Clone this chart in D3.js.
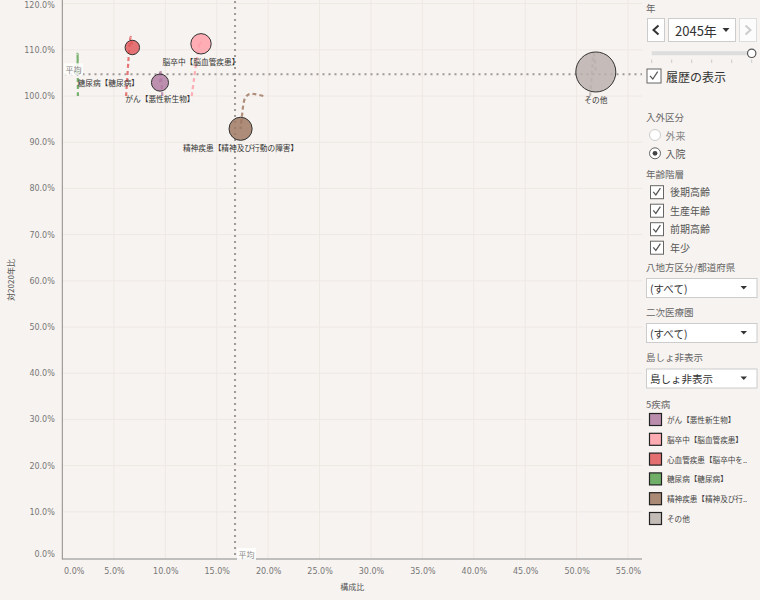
<!DOCTYPE html>
<html><head><meta charset="utf-8">
<script src="https://cdn.jsdelivr.net/npm/d3@7"></script>
<style>
html,body{margin:0;padding:0;background:#f7f3f0;}
svg{display:block;}
text{font-family:"Noto Sans CJK JP","Noto Sans",sans-serif;}
.num{font-family:"DejaVu Sans",sans-serif;}
</style></head><body>
<svg id="c" width="760" height="600"></svg>
<script>
// ---- data ----
const diseases = ["がん【悪性新生物】","脳卒中【脳血管疾患】","心血管疾患【脳卒中を除く】","糖尿病【糖尿病】","精神疾患【精神及び行動の障害】","その他"];
const legendLabels = ["がん【悪性新生物】","脳卒中【脳血管疾患】","心血管疾患【脳卒中を..","糖尿病【糖尿病】","精神疾患【精神及び行..","その他"];
const colors = ["#b07aa1","#ff9da7","#e15759","#59a14f","#9c755f","#bab0ac"];
const years = [2020,2025,2030,2035,2040,2045];
const shareCancer   = [0.0971,0.0963,0.0956,0.0951,0.0948,0.0948];
const ratioCancer   = [1.000,1.030,1.049,1.056,1.050,1.029];
const shareStroke   = [0.1257,0.1278,0.1298,0.1318,0.1338,0.1347];
const ratioStroke   = [1.000,1.035,1.068,1.096,1.118,1.113];
const shareHeart    = [0.0618,0.0630,0.0642,0.0652,0.0663,0.0679];
const ratioHeart    = [1.000,1.040,1.080,1.110,1.128,1.105];
const shareDiabetes = [0.0150,0.0149,0.0148,0.0147,0.0147,0.0146];
const ratioDiabetes = [1.000,1.040,1.073,1.091,1.082,1.053];
const shareMental   = [0.1953,0.1873,0.1814,0.1775,0.1743,0.1732];
const ratioMental   = [1.000,1.004,1.004,0.995,0.952,0.929];
const shareOther    = [0.5131,0.5145,0.5155,0.5163,0.5170,0.5187];
const ratioOther    = [1.000,1.035,1.068,1.092,1.090,1.052];
const avgShare = 0.1678;
const avgRatio = 1.047;
const xTicks = [0,0.05,0.10,0.15,0.20,0.25,0.30,0.35,0.40,0.45,0.50,0.55];
const yTicks = [0,0.1,0.2,0.3,0.4,0.5,0.6,0.7,0.8,0.9,1.0,1.1,1.2];
const xTitle = "構成比", yTitle = "対2020年比", avgLabel = "平均";
const ageGroups = ["後期高齢","生産年齢","前期高齢","年少"];
const inOut = ["外来","入院"];
const sliderYears = years;

const shares = [shareCancer,shareStroke,shareHeart,shareDiabetes,shareMental,shareOther];
const ratios = [ratioCancer,ratioStroke,ratioHeart,ratioDiabetes,ratioMental,ratioOther];
const series = diseases.map((d,i)=>({name:d, color:colors[i],
  pts: years.map((yr,j)=>({year:yr, x:shares[i][j], y:ratios[i][j]}))}));
// label placement (layout only): null = hidden
const labelAnchor = ["middle","middle",null,"start","middle","middle"];

// ---- layout ----
const svg = d3.select("#c");
const L = 62.5, R = 642, T = 0, B = 559;
const x = d3.scaleLinear().domain([0,0.55]).range([62.5,628]);
const y = d3.scaleLinear().domain([0,1.2]).range([558,3.6]);
const r = d3.scaleSqrt().domain([0,d3.max(shareOther)]).range([0,20]);
const pct = d3.format(".1%");

svg.append("rect").attr("width",760).attr("height",600).attr("fill","#f7f3f0");

// gridlines
const g = svg.append("g");
g.selectAll(".vg").data(xTicks.slice(1)).join("line")
  .attr("x1",d=>x(d)).attr("x2",d=>x(d)).attr("y1",T).attr("y2",B)
  .attr("stroke","#eee8e3").attr("stroke-width",1);
g.selectAll(".hg").data(yTicks.slice(1)).join("line")
  .attr("x1",L).attr("x2",R).attr("y1",d=>y(d)).attr("y2",d=>y(d))
  .attr("stroke","#eee8e3").attr("stroke-width",1);

// axes
const ax = svg.append("g").attr("transform",`translate(0,${B})`)
  .call(d3.axisBottom(x).tickValues(xTicks).tickFormat(pct).tickSize(0).tickPadding(9));
ax.select(".domain").remove();
ax.selectAll("text").attr("class","num").attr("font-size",8).attr("fill","#777")
  .attr("text-anchor",(d,i)=>i===0?"start":"middle").attr("dx",(d,i)=>i===0?1:0);
const ay = svg.append("g").attr("transform",`translate(${L-0.2},0)`)
  .call(d3.axisLeft(y).tickValues(yTicks).tickFormat(pct).tickSize(0).tickPadding(7.5));
ay.select(".domain").remove();
ay.selectAll("text").attr("class","num").attr("font-size",8).attr("fill","#777")
  .attr("dy",d=>d===0?"-0.15em":(d>=1.2?"0.5em":"0.32em"));
svg.append("line").attr("x1",62.3).attr("x2",62.3).attr("y1",0).attr("y2",B+0.5).attr("stroke","#8a8a8a");
svg.append("line").attr("x1",62.3).attr("x2",R).attr("y1",B).attr("y2",B).attr("stroke","#8a8a8a");
svg.append("text").attr("x",(L+R)/2).attr("y",590).attr("text-anchor","middle")
  .attr("font-size",8).attr("fill","#555").text(xTitle);
svg.append("text").attr("transform","translate(14,280) rotate(-90)").attr("text-anchor","middle")
  .attr("font-size",8).attr("fill","#555").text(yTitle);

// average reference lines
svg.append("line").attr("x1",x(avgShare)).attr("x2",x(avgShare)).attr("y1",1).attr("y2",B)
  .attr("stroke","#a09a96").attr("stroke-width",2).attr("stroke-dasharray","2,4");
svg.append("line").attr("x1",L+2).attr("x2",R).attr("y1",y(avgRatio)).attr("y2",y(avgRatio))
  .attr("stroke","#a09a96").attr("stroke-width",2).attr("stroke-dasharray","2,4");

// trails
const line = d3.line().x(d=>x(d.x)).y(d=>y(d.y)).curve(d3.curveCatmullRom.alpha(0.5));
svg.append("g").selectAll("path").data(series).join("path")
  .attr("d",d=>line(d.pts)).attr("fill","none").attr("stroke",d=>d.color)
  .attr("stroke-width",2.2).attr("stroke-dasharray","4,3").attr("stroke-opacity",0.8);

// bubbles (2045)
const last = series.map(s=>({name:s.name,color:s.color,...s.pts[s.pts.length-1]}));
svg.append("g").selectAll("circle").data(last).join("circle")
  .attr("cx",d=>x(d.x)).attr("cy",d=>y(d.y)).attr("r",d=>r(d.x))
  .attr("fill",d=>d.color).attr("fill-opacity",0.82).attr("stroke","#333").attr("stroke-width",1);

// avg labels
function avgText(tx,ty){
  const t = svg.append("text").attr("x",tx).attr("y",ty).attr("font-size",8).attr("fill","#888")
    .attr("dominant-baseline","central").text(avgLabel);
  const bb = t.node().getBBox();
  svg.insert("rect",()=>t.node()).attr("x",bb.x-1.5).attr("y",bb.y-0.5).attr("width",bb.width+3).attr("height",bb.height+1)
    .attr("fill","#fff").attr("fill-opacity",0.85);
}
avgText(x(0)+3, y(avgRatio)-5);
avgText(x(avgShare)+3.5, 554);

// mark labels
svg.append("g").selectAll("text").data(last.filter((d,i)=>labelAnchor[i]))
  .join("text")
  .attr("x",d=>x(d.x)).attr("y",d=>y(d.y)+r(d.x)+7.5)
  .attr("text-anchor",d=>labelAnchor[diseases.indexOf(d.name)])
  .attr("dominant-baseline","central").attr("font-size",7.7).attr("fill","#333")
  .text(d=>d.name);

// ---- right panel ----
const P = svg.append("g");
const titleCol = "#666";
function title(t,ty,col){P.append("text").attr("x",646).attr("y",ty).attr("font-size",9.5)
  .attr("dominant-baseline","central").attr("fill",col||titleCol).text(t);}
title("年",8);
P.append("rect").attr("x",647.5).attr("y",18.5).attr("width",17).attr("height",23).attr("fill","#fff").attr("stroke","#ccc");
P.append("path").attr("d","M658.5,25.5 L653.5,30 L658.5,34.5").attr("fill","none").attr("stroke","#333").attr("stroke-width",2);
P.append("rect").attr("x",668.5).attr("y",18.5).attr("width",67).attr("height",23).attr("fill","#fff").attr("stroke","#ccc");
P.append("text").attr("x",675).attr("y",30).attr("font-size",13).attr("fill","#333").attr("dominant-baseline","central").text(sliderYears[sliderYears.length-1]+"年");
P.append("path").attr("d","M722.5,28 L729.5,28 L726,32 Z").attr("fill","#333");
P.append("rect").attr("x",739.5).attr("y",18.5).attr("width",17).attr("height",23).attr("fill","#fcfcfc").attr("stroke","#ddd");
P.append("path").attr("d","M745.5,25.5 L750.5,30 L745.5,34.5").attr("fill","none").attr("stroke","#ccc").attr("stroke-width",2);
// slider
const sx = d3.scaleLinear().domain([2020,2045]).range([651.7,751.7]);
P.append("line").attr("x1",651.7).attr("x2",751.7).attr("y1",53.3).attr("y2",53.3).attr("stroke","#ddd").attr("stroke-width",4);
P.selectAll(".tk").data(sliderYears).join("line").attr("x1",d=>sx(d)).attr("x2",d=>sx(d))
  .attr("y1",59.5).attr("y2",63).attr("stroke","#ccc");
P.append("circle").attr("cx",sx(2045)).attr("cy",53.3).attr("r",4.2).attr("fill","#fff").attr("stroke","#555").attr("stroke-width",1.2);
function checkbox(cx,cy,s){
  P.append("rect").attr("x",cx+0.5).attr("y",cy+0.5).attr("width",s).attr("height",s).attr("fill","#fff").attr("stroke","#666");
  P.append("path").attr("d",`M${cx+s*0.25},${cy+s*0.52} L${cx+s*0.45},${cy+s*0.75} L${cx+s*0.8},${cy+s*0.22}`)
    .attr("fill","none").attr("stroke","#555").attr("stroke-width",1.2);
}
checkbox(646.5,68.5,14);
P.append("text").attr("x",666).attr("y",76).attr("font-size",12).attr("fill","#333").attr("dominant-baseline","central").text("履歴の表示");
title("入外区分",117);
inOut.forEach((t,i)=>{
  const cy = 135+i*18.3;
  P.append("circle").attr("cx",655).attr("cy",cy).attr("r",5.5).attr("fill","#fff").attr("stroke",i===1?"#666":"#ccc");
  if(i===1) P.append("circle").attr("cx",655).attr("cy",cy).attr("r",2.4).attr("fill","#444");
  P.append("text").attr("x",665.5).attr("y",cy).attr("font-size",10).attr("fill",i===1?"#555":"#888").attr("dominant-baseline","central").text(t);
});
title("年齢階層",173.5);
ageGroups.forEach((t,i)=>{
  const cy = 191.7+i*18.5;
  checkbox(650,cy-6.5,13);
  P.append("text").attr("x",670).attr("y",cy).attr("font-size",10).attr("fill","#555").attr("dominant-baseline","central").text(t);
});
function dropdown(t,ty,boxY){
  title(t,ty);
  P.append("rect").attr("x",646.5).attr("y",boxY+0.5).attr("width",110.5).attr("height",19).attr("fill","#fff").attr("stroke","#ccc");
  return boxY;
}
const dds = [["八地方区分/都道府県",266.5,278,"(すべて)"],["二次医療圏",311.5,323,"(すべて)"],["島しょ非表示",356.5,368.5,"島しょ非表示"]];
dds.forEach(d=>{
  dropdown(d[0],d[1],d[2]);
  P.append("text").attr("x",650).attr("y",d[2]+10.3).attr("font-size",10.5).attr("fill","#333").attr("dominant-baseline","central").text(d[3]);
  P.append("path").attr("d",`M740.5,${d[2]+8} L747,${d[2]+8} L743.75,${d[2]+11.5} Z`).attr("fill","#333");
});
title("5疾病",403.5);
legendLabels.forEach((t,i)=>{
  const cy = 419.5+i*19.8;
  P.append("rect").attr("x",649.5).attr("y",cy-6).attr("width",12).attr("height",12)
    .attr("fill",colors[i]).attr("fill-opacity",0.85).attr("stroke","#222").attr("stroke-width",1.2);
  P.append("text").attr("x",667).attr("y",cy).attr("font-size",7.6).attr("fill","#444").attr("dominant-baseline","central").text(t);
});
</script>
</body></html>
